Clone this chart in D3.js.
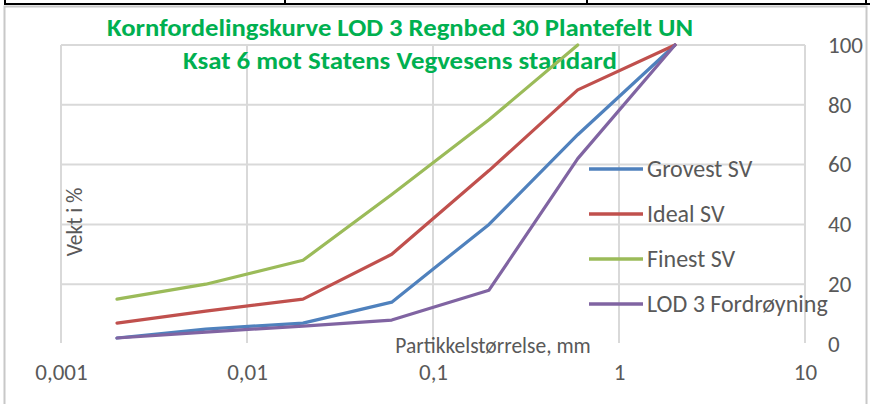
<!DOCTYPE html>
<html>
<head>
<meta charset="utf-8">
<script src="https://cdn.jsdelivr.net/npm/d3@7"></script>
<style>
  html, body { margin: 0; padding: 0; background: #ffffff; }
  svg { display: block; }
  text { font-family: Carlito, Lato, "Open Sans", sans-serif; }
</style>
</head>
<body>
<svg id="chart" width="870" height="404"></svg>
<script>
// ---- data ----
const titleLines = ["Kornfordelingskurve LOD 3 Regnbed 30 Plantefelt UN", "Ksat 6 mot Statens Vegvesens standard"];
const xAxisTitle = "Partikkelstørrelse, mm";
const yAxisTitle = "Vekt i %";
const xTickValues = [0.001, 0.01, 0.1, 1, 10];
const xTickLabels = ["0,001", "0,01", "0,1", "1", "10"];
const yTickValues = [0, 20, 40, 60, 80, 100];
const seriesNames = ["Grovest SV", "Ideal SV", "Finest SV", "LOD 3 Fordrøyning"];
const grainSizes = [0.002, 0.006, 0.02, 0.06, 0.2, 0.6, 2];
const grovestSV = [2, 5, 7, 14, 40, 70, 100];
const idealSV = [7, 11, 15, 30, 58, 85, 100];
const finestSV = [15, 20, 28, 50, 75, 100];
const lodFordroyning = [2, 4, 6, 8, 18, 62, 100];
const seriesColors = ["#4f81bd", "#c0504d", "#9bbb59", "#8064a2"];

const seriesValues = [grovestSV, idealSV, finestSV, lodFordroyning];

// ---- layout ----
const svg = d3.select("#chart");
const plot = { left: 61, right: 805, top: 45, bottom: 344 };
const x = d3.scaleLog().domain([0.001, 10]).range([plot.left, plot.right]);
const y = d3.scaleLinear().domain([0, 100]).range([plot.bottom, plot.top]);

// table remnants at the top
svg.append("line").attr("x1", 4).attr("x2", 870).attr("y1", 4).attr("y2", 4)
  .attr("stroke", "#000").attr("stroke-width", 2);
[5, 285, 587, 866].forEach(px => {
  svg.append("line").attr("x1", px).attr("x2", px).attr("y1", 0).attr("y2", 4)
    .attr("stroke", "#000").attr("stroke-width", 2);
});

// chart outer border
svg.append("rect").attr("x", 4.5).attr("y", 6.5).attr("width", 862).attr("height", 410)
  .attr("fill", "#fff").attr("stroke", "#c8c8c8").attr("stroke-width", 2);

// gridlines
const grid = svg.append("g");
grid.selectAll("line.h").data(yTickValues.filter(v => v > 0)).enter().append("line")
  .attr("x1", plot.left).attr("x2", plot.right)
  .attr("y1", d => y(d)).attr("y2", d => y(d))
  .attr("stroke", "#d9d9d9").attr("stroke-width", 2);
grid.selectAll("line.v").data(xTickValues).enter().append("line")
  .attr("x1", d => x(d)).attr("x2", d => x(d))
  .attr("y1", plot.top).attr("y2", plot.bottom - 1)
  .attr("stroke", "#d9d9d9").attr("stroke-width", 2);

// titles
const titleG = svg.append("g");
titleG.append("text").attr("x", 400).attr("y", 36).attr("text-anchor", "middle")
  .attr("font-size", 24).attr("font-weight", "bold").attr("fill", "#00b050")
  .attr("textLength", 586).attr("lengthAdjust", "spacingAndGlyphs")
  .text(titleLines[0]);
titleG.append("text").attr("x", 400).attr("y", 69).attr("text-anchor", "middle")
  .attr("font-size", 24).attr("font-weight", "bold").attr("fill", "#00b050")
  .attr("textLength", 434).attr("lengthAdjust", "spacingAndGlyphs")
  .text(titleLines[1]);

// series lines
const line = d3.line().x(d => x(d[0])).y(d => y(d[1]));
seriesValues.forEach((vals, i) => {
  const pts = vals.map((v, j) => [grainSizes[j], v]);
  svg.append("path").datum(pts).attr("d", line)
    .attr("fill", "none").attr("stroke", seriesColors[i]).attr("stroke-width", 3.2)
    .attr("stroke-linejoin", "round").attr("stroke-linecap", "round");
});

// x axis tick labels (bottom)
const xAxis = d3.axisBottom(x).tickValues(xTickValues)
  .tickFormat((d, i) => xTickLabels[i]).tickSize(0).tickPadding(0);
const xg = svg.append("g").attr("transform", "translate(0,364)").call(xAxis);
xg.select(".domain").remove();
xg.selectAll("text").attr("font-size", 23).attr("fill", "#595959")
  .attr("font-family", "Carlito, Lato, 'Open Sans', sans-serif");

// y axis tick labels (right)
const yAxis = d3.axisRight(y).tickValues(yTickValues).tickSize(0).tickPadding(0);
const yg = svg.append("g").attr("transform", "translate(828,0)").call(yAxis);
yg.select(".domain").remove();
yg.selectAll("text").attr("font-size", 23).attr("fill", "#595959")
  .attr("font-family", "Carlito, Lato, 'Open Sans', sans-serif");

// axis titles
svg.append("text").attr("x", 493).attr("y", 353).attr("text-anchor", "middle")
  .attr("font-size", 21.5).attr("fill", "#595959").text(xAxisTitle);
svg.append("text").attr("transform", "translate(82,222) rotate(-90)")
  .attr("text-anchor", "middle").attr("font-size", 21.5).attr("fill", "#595959")
  .text(yAxisTitle);

// legend
const legend = svg.append("g");
seriesNames.forEach((name, i) => {
  const ly = 169 + i * 45;
  legend.append("line").attr("x1", 589).attr("x2", 643).attr("y1", ly).attr("y2", ly)
    .attr("stroke", seriesColors[i]).attr("stroke-width", 3.5);
  legend.append("text").attr("x", 647).attr("y", ly + 8)
    .attr("font-size", 24).attr("fill", "#595959").text(name);
});
</script>
</body>
</html>
